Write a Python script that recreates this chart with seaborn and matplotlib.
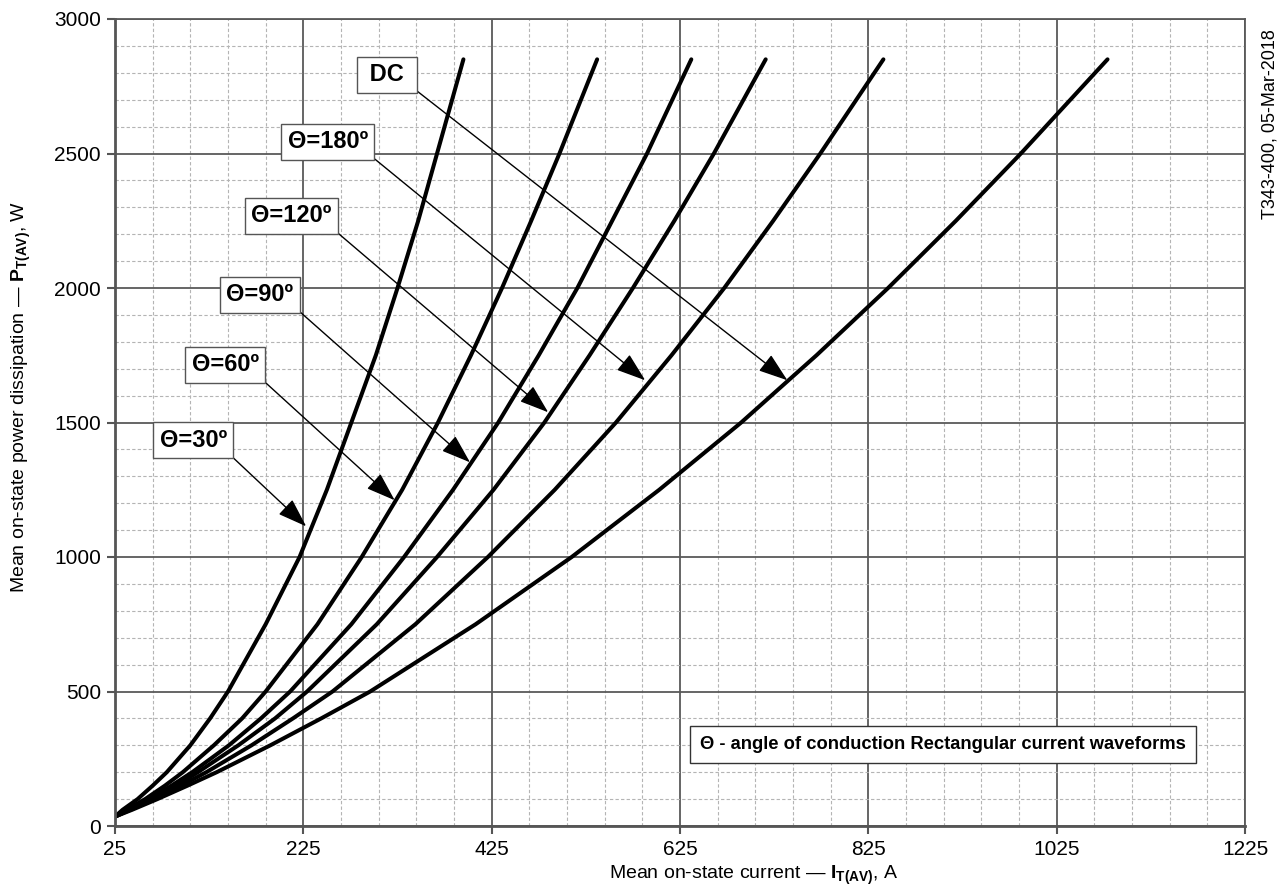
import numpy as np
import pandas as pd
import matplotlib
matplotlib.use("Agg")
import matplotlib.pyplot as plt
from matplotlib.ticker import FixedLocator
import seaborn as sns

# ---- data ----
P_levels = [35, 60, 100, 150, 200, 300, 400, 500, 750, 1000, 1250, 1500,
            1750, 2000, 2250, 2500, 2850]                                          # W
I_30 = [25, 33, 49, 65, 80, 105, 126, 145, 185, 221, 250, 276, 302, 325, 347, 367, 395]   # A
I_60 = [25, 37, 57, 78, 97, 130, 160, 185, 240, 287, 330, 368, 403, 436, 467, 497, 537]
I_90 = [25, 39, 61, 85, 107, 146, 180, 211, 276, 332, 384, 432, 475, 516, 553, 590, 637]
I_120 = [25, 40, 63, 90, 113, 156, 195, 229, 303, 367, 427, 481, 529, 575, 619, 661, 716]
I_180 = [25, 41, 66, 95, 122, 170, 214, 256, 344, 421, 492, 557, 616, 672, 724, 774, 841]
I_DC = [25, 43, 70, 102, 133, 190, 244, 296, 408, 510, 603, 690, 770, 846, 918, 987, 1079]
series_names = ["Θ=30º", "Θ=60º", "Θ=90º", "Θ=120º", "Θ=180º", "DC"]
series_I = [I_30, I_60, I_90, I_120, I_180, I_DC]

x_ticks = [25, 225, 425, 625, 825, 1025, 1225]
y_ticks = [0, 500, 1000, 1500, 2000, 2500, 3000]

rows = []
for name, xs in zip(series_names, series_I):
    for x, y in zip(xs, P_levels):
        rows.append({"series": name, "I": x, "P": y})
df = pd.DataFrame(rows)

sns.set_theme(style="white")
plt.rcParams["font.family"] = ["Liberation Sans", "DejaVu Sans"]
plt.rcParams["mathtext.fontset"] = "custom"
plt.rcParams["mathtext.rm"] = "Liberation Sans"
plt.rcParams["mathtext.bf"] = "Liberation Sans:bold"
plt.rcParams["mathtext.it"] = "Liberation Sans:italic"
plt.rcParams["text.color"] = "black"
plt.rcParams["axes.labelcolor"] = "black"
plt.rcParams["xtick.color"] = "black"
plt.rcParams["ytick.color"] = "black"

fig = plt.figure(figsize=(12.81, 8.94), dpi=100)
ax = fig.add_axes([115 / 1281, 1 - 826 / 894, (1245 - 115) / 1281, (826 - 19) / 894])

sns.lineplot(data=df, x="I", y="P", hue="series", units="series", estimator=None,
             palette=["black"] * len(series_names), linewidth=2.9, legend=False,
             ax=ax, sort=False)
for ln in ax.lines:
    ln.set_solid_joinstyle("round")
    ln.set_solid_capstyle("round")

ax.set_xlim(25, 1225)
ax.set_ylim(0, 3000)
ax.xaxis.set_major_locator(FixedLocator(x_ticks))
ax.yaxis.set_major_locator(FixedLocator(y_ticks))
ax.xaxis.set_minor_locator(FixedLocator(np.arange(25, 1226, 40)))
ax.yaxis.set_minor_locator(FixedLocator(np.arange(0, 3001, 100)))
ax.set_xticklabels([str(v) for v in x_ticks])
ax.set_yticklabels([str(v) for v in y_ticks])

ax.grid(which="minor", color="#b4b4b4", linewidth=0.8, linestyle=(0, (3, 2)))
ax.grid(which="major", color="#595959", linewidth=1.3, linestyle="-")
ax.set_axisbelow(True)
for s in ["left", "bottom"]:
    ax.spines[s].set_color("#555555")
    ax.spines[s].set_linewidth(2.0)
for s in ["top", "right"]:
    ax.spines[s].set_color("#595959")
    ax.spines[s].set_linewidth(1.3)
ax.tick_params(which="major", direction="out", length=6, width=1.5, color="#555555",
               labelsize=15, labelcolor="black", bottom=True, left=True, pad=4)
ax.tick_params(which="minor", length=0)

ax.set_xlabel(r"Mean on-state current — $\mathbf{I}_{\mathbf{T(AV)}}$, A", fontsize=14)
ax.set_ylabel(r"Mean on-state power dissipation — $\mathbf{P}_{\mathbf{T(AV)}}$, W", fontsize=14)
ax.xaxis.set_label_coords(0.565, -0.047)
ax.yaxis.set_label_coords(-0.073, 0.532)

# ---- annotations (label box -> arrow to curve) ----
ann = [
    (" DC ", (314, 2793), (739, 1657)),
    ("Θ=180º", (251, 2543), (588, 1657)),
    ("Θ=120º", (212, 2268), (485, 1538)),
    ("Θ=90º", (179, 1975), (402, 1352)),
    ("Θ=60º", (142, 1714), (322, 1211)),
    ("Θ=30º", (108, 1434), (228, 1114)),
]
for txt, xyt, xy in ann:
    ax.annotate(txt, xy=xy, xytext=xyt, ha="center", va="center",
                fontsize=17, fontweight="bold",
                bbox=dict(boxstyle="square,pad=0.27", fc="white", ec="#555555", lw=1.0),
                arrowprops=dict(arrowstyle="-|>,head_length=1.3,head_width=0.45",
                                mutation_scale=14, color="black", lw=1.0,
                                relpos=(1.0, 0.0), shrinkA=0, shrinkB=0))

ax.text(904, 302, "Θ - angle of conduction Rectangular current waveforms",
        ha="center", va="center", fontsize=13.2, fontweight="bold",
        bbox=dict(boxstyle="square,pad=0.55", fc="white", ec="#333333", lw=1.0))

fig.text(1270 / 1281, 1 - 124 / 894, "T343-400, 05-Mar-2018", rotation=90,
         ha="center", va="center", fontsize=13)

fig.savefig("out.png", dpi=100)
